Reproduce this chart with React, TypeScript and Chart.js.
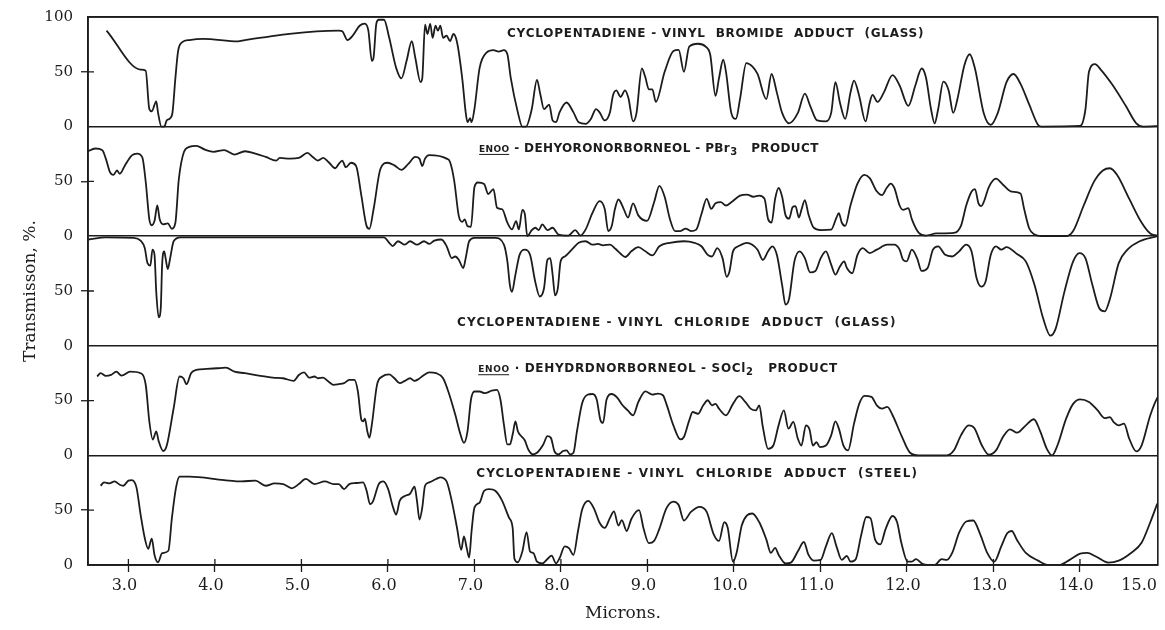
import React, { useEffect, useRef } from "react";
import { Chart, registerables } from "chart.js";

Chart.register(...registerables);

const INK = "#1c1c1c";
const SERIF = '"DejaVu Serif", serif';
const SANS = '"DejaVu Sans", sans-serif';

// ---------- axes ----------
const X_MIN = 2.533;
const X_MAX = 14.9;
const xTickValues = [3, 4, 5, 6, 7, 8, 9, 10, 11, 12, 13, 14, 14.73];
const xTickLabels = ["3.0", "4.0", "5.0", "6.0", "7.0", "8.0", "9.0", "10.0", "11.0", "12.0", "13.0", "14.0", "15.0"];
const yTickValues = [0, 50, 100, 150, 200, 250, 300, 350, 400, 450, 500];
const yTickLabels = ["0", "50", "0", "50", "0", "50", "0", "50", "0", "50", "100"];

// ---------- spectra (microns, transmission %) ----------
// 1. Cyclopentadiene - vinyl bromide adduct (glass)
const vbGlassMicrons = [2.747, 3.14, 3.2, 3.242, 3.27, 3.322, 3.342, 3.382, 3.414, 3.443, 3.483, 3.51, 3.543, 3.575, 3.623, 3.704, 3.865, 4.266, 4.347, 5.432, 5.472, 5.533, 5.593, 5.673, 5.733, 5.774, 5.814, 5.834, 5.866, 5.894, 5.955, 6.015, 6.095, 6.156, 6.216, 6.276, 6.316, 6.377, 6.397, 6.429, 6.457, 6.489, 6.517, 6.55, 6.578, 6.606, 6.638, 6.678, 6.718, 6.758, 6.799, 6.859, 6.899, 6.92, 6.951, 6.967, 7.0, 7.06, 7.14, 7.22, 7.28, 7.341, 7.381, 7.421, 7.502, 7.554, 7.595, 7.663, 7.723, 7.763, 7.804, 7.864, 7.904, 7.944, 7.984, 8.065, 8.145, 8.205, 8.286, 8.346, 8.406, 8.447, 8.507, 8.567, 8.6, 8.64, 8.69, 8.74, 8.78, 8.834, 8.874, 8.935, 8.976, 9.016, 9.057, 9.097, 9.199, 9.3, 9.361, 9.422, 9.483, 9.584, 9.673, 9.726, 9.787, 9.827, 9.876, 9.908, 9.969, 10.022, 10.07, 10.143, 10.212, 10.273, 10.374, 10.435, 10.496, 10.557, 10.638, 10.739, 10.82, 10.881, 10.962, 11.063, 11.124, 11.173, 11.225, 11.286, 11.347, 11.388, 11.448, 11.521, 11.57, 11.602, 11.659, 11.732, 11.834, 11.915, 12.016, 12.097, 12.17, 12.219, 12.279, 12.32, 12.36, 12.421, 12.482, 12.535, 12.583, 12.664, 12.725, 12.786, 12.887, 12.969, 13.05, 13.151, 13.232, 13.313, 13.414, 13.516, 13.556, 14.002, 14.063, 14.104, 14.173, 14.245, 14.367, 14.529, 14.651, 14.732, 14.934];
const vbGlassT = [87.6, 52, 51, 16, 14, 23, 13, 0, 0, 5.6, 7.7, 13, 44, 69, 77, 79, 80, 77.7, 79, 87.6, 87, 79, 83, 92, 94, 87.6, 60, 63, 94, 97.5, 97.5, 81, 53.6, 44, 60, 78, 63, 40.6, 44, 93, 84.5, 93.8, 81, 92, 87.6, 92, 81, 83, 78, 84.5, 77, 44, 13, 4, 7.7, 4, 16, 53.6, 67.5, 69.7, 68.4, 69.7, 66, 44, 13, 0, 0, 16, 42.7, 29, 16, 20, 5.6, 4, 13, 22, 13, 4, 2.5, 7, 16, 13, 5.6, 13, 28, 33, 27, 33, 26, 4.7, 12.5, 53, 45, 34, 34, 22.5, 50, 69, 70, 50, 73, 75.6, 73, 65.6, 28, 44, 61, 50, 12.5, 7, 25, 58, 55, 48, 25, 48, 31, 12.5, 3, 12.5, 30, 19, 5.6, 4.7, 12.5, 40.6, 22, 7, 31, 42, 28, 4.7, 22, 29, 22.5, 31, 47, 37.5, 19, 37.5, 53, 45, 15.6, 3, 15.6, 41, 33, 12.5, 25, 56, 66, 53, 12.5, 1.5, 12.5, 40.6, 48, 39, 20, 1.5, 0, 0.6, 15.6, 50, 57, 51.6, 39, 19, 3, 0, 0.6];

// 2. endo-Dehydronorborneol - PBr3 product
const pbr3Microns = [2.518, 2.619, 2.699, 2.739, 2.787, 2.828, 2.868, 2.9, 2.96, 3.04, 3.1, 3.161, 3.201, 3.242, 3.27, 3.302, 3.334, 3.362, 3.402, 3.455, 3.503, 3.543, 3.583, 3.643, 3.704, 3.784, 3.885, 3.985, 4.106, 4.226, 4.347, 4.468, 4.588, 4.709, 4.749, 4.87, 4.97, 5.07, 5.131, 5.191, 5.251, 5.312, 5.392, 5.432, 5.472, 5.513, 5.573, 5.633, 5.693, 5.754, 5.786, 5.834, 5.914, 5.995, 6.075, 6.156, 6.236, 6.316, 6.364, 6.397, 6.429, 6.477, 6.678, 6.718, 6.766, 6.819, 6.859, 6.887, 6.92, 6.96, 7.0, 7.04, 7.112, 7.16, 7.22, 7.261, 7.321, 7.381, 7.434, 7.482, 7.514, 7.554, 7.583, 7.611, 7.663, 7.703, 7.743, 7.784, 7.844, 7.904, 7.972, 8.085, 8.165, 8.226, 8.286, 8.366, 8.447, 8.507, 8.547, 8.587, 8.625, 8.665, 8.725, 8.775, 8.834, 8.895, 8.996, 9.077, 9.138, 9.199, 9.26, 9.32, 9.381, 9.442, 9.503, 9.564, 9.624, 9.685, 9.738, 9.787, 9.847, 9.908, 9.969, 10.07, 10.151, 10.224, 10.293, 10.354, 10.395, 10.435, 10.476, 10.516, 10.557, 10.597, 10.638, 10.678, 10.711, 10.751, 10.78, 10.82, 10.861, 10.922, 11.003, 11.124, 11.185, 11.213, 11.246, 11.286, 11.347, 11.428, 11.509, 11.57, 11.651, 11.712, 11.765, 11.813, 11.854, 11.915, 11.955, 12.016, 12.056, 12.137, 12.219, 12.34, 12.543, 12.624, 12.685, 12.746, 12.786, 12.827, 12.859, 12.887, 12.948, 13.029, 13.11, 13.212, 13.313, 13.354, 13.414, 13.475, 13.556, 13.84, 13.921, 14.043, 14.164, 14.265, 14.347, 14.428, 14.57, 14.712, 14.813, 14.894];
const pbr3T = [77, 80, 78.5, 70.8, 58.5, 56, 60, 57, 64.6, 73.8, 75.4, 72, 49, 15.4, 10, 14, 28, 15.4, 10.8, 11.7, 6.8, 12.3, 52, 77, 81.5, 82.5, 79, 77, 78.5, 74.5, 77.5, 75.4, 72.3, 69, 71.4, 70.8, 71.4, 76, 72.3, 69, 71.4, 67.7, 62, 66, 69, 63, 67, 64, 37, 9.2, 6.8, 24.6, 61.5, 67, 64.6, 60.6, 66, 72.3, 70.8, 64, 70.8, 74, 70.8, 67.7, 50.8, 18.5, 13, 15.4, 9.2, 8.6, 44.6, 49, 47.7, 38.5, 43, 26, 24.6, 12.3, 6.2, 13.8, 6.2, 24, 20, 0, 5.5, 7.7, 5.5, 10.8, 5.5, 7.7, 1.5, 0.6, 5.5, 0.6, 6.2, 21.5, 32, 24.6, 4.6, 9.2, 25, 33.5, 25, 17, 30, 19, 14, 31, 46, 36, 15.6, 4.7, 4.7, 7, 4.7, 6, 20, 34, 25, 30, 31, 28, 31, 37, 38, 36, 37, 34, 15.6, 12.5, 34, 44, 36, 19, 16, 26.5, 27.5, 17, 24, 33, 20, 7.8, 5.6, 6, 17, 21, 12.5, 9.4, 28, 48, 56, 53, 41, 37.5, 44, 48, 44, 28, 24, 25.6, 15.6, 3, 0.6, 2.5, 3, 9.4, 28, 40.6, 43, 30, 27.5, 31, 45, 52.5, 47, 40.6, 39, 25, 7, 1.5, 0, 0, 4.7, 28, 50, 60, 62, 56, 34, 12.5, 2.5, 0.6];

// 3. Cyclopentadiene - vinyl chloride adduct (glass), plotted hanging from the top
const vcGlassMicrons = [2.538, 2.739, 3.061, 3.141, 3.189, 3.221, 3.254, 3.278, 3.302, 3.322, 3.35, 3.374, 3.39, 3.414, 3.43, 3.455, 3.483, 3.523, 3.603, 5.955, 6.015, 6.055, 6.116, 6.196, 6.256, 6.336, 6.417, 6.477, 6.537, 6.618, 6.678, 6.738, 6.779, 6.819, 6.871, 6.899, 6.939, 7.0, 7.24, 7.341, 7.381, 7.41, 7.434, 7.474, 7.522, 7.583, 7.643, 7.703, 7.755, 7.804, 7.844, 7.876, 7.904, 7.932, 7.964, 7.996, 8.045, 8.125, 8.205, 8.286, 8.366, 8.427, 8.487, 8.567, 8.63, 8.69, 8.745, 8.814, 8.895, 8.976, 9.057, 9.138, 9.26, 9.422, 9.543, 9.624, 9.697, 9.746, 9.807, 9.868, 9.916, 9.949, 9.989, 10.05, 10.151, 10.212, 10.273, 10.334, 10.395, 10.443, 10.496, 10.557, 10.597, 10.638, 10.699, 10.759, 10.82, 10.881, 10.942, 11.003, 11.063, 11.124, 11.173, 11.225, 11.274, 11.306, 11.367, 11.428, 11.489, 11.57, 11.651, 11.773, 11.854, 11.915, 11.955, 11.996, 12.056, 12.117, 12.17, 12.239, 12.3, 12.36, 12.442, 12.523, 12.603, 12.685, 12.746, 12.806, 12.859, 12.908, 12.969, 13.029, 13.09, 13.151, 13.273, 13.374, 13.475, 13.576, 13.658, 13.718, 13.82, 13.921, 13.994, 14.063, 14.144, 14.225, 14.286, 14.347, 14.448, 14.549, 14.691, 14.894];
const vcGlassT = [3, 1, 1.5, 4, 10.8, 24.6, 26.8, 12.3, 17, 50.8, 74, 66, 26, 13.8, 20, 30, 20, 4.6, 1, 1, 6, 9, 4.6, 7.7, 4.6, 7.7, 4.6, 7, 4, 3, 9, 20, 18.5, 21.5, 29, 20, 4.6, 1.5, 1.5, 7.7, 23, 44.6, 50.8, 35, 17, 12.3, 17, 41.5, 55, 47.7, 21.5, 20, 35, 54, 47.7, 23, 18.5, 12.3, 6, 4.6, 7.7, 7, 8.3, 7.7, 11.5, 16, 19, 13.8, 10, 13.8, 17.5, 9.2, 6, 4.6, 6, 9.2, 17, 18.5, 10.8, 20, 37, 32, 13.8, 9.2, 6, 7.7, 12.3, 21.5, 13.8, 9.2, 17, 44.6, 62.5, 57, 23, 13.8, 20, 33, 31.7, 20, 13.8, 26, 35, 27.7, 23, 29, 33.8, 17, 10.8, 15.4, 12.3, 7.7, 7.7, 12.3, 21.5, 23, 12.3, 20, 31.7, 29, 12.3, 9.2, 17, 18.5, 13.8, 7.7, 13.8, 38.5, 46, 41.5, 17, 9.2, 12.3, 10, 16.3, 23, 44.6, 75.4, 90.8, 84.6, 50.8, 23, 15.4, 20, 44.6, 66, 68.6, 57, 24.6, 12.3, 4.6, 0];

// 4. endo-Dehydronorborneol - SOCl2 product
const socl2Microns = [2.639, 2.679, 2.739, 2.8, 2.86, 2.92, 3.02, 3.141, 3.201, 3.242, 3.282, 3.322, 3.35, 3.402, 3.442, 3.523, 3.591, 3.636, 3.672, 3.724, 3.784, 3.905, 4.025, 4.126, 4.226, 4.347, 4.508, 4.669, 4.789, 4.91, 4.97, 5.03, 5.09, 5.151, 5.191, 5.251, 5.312, 5.372, 5.432, 5.493, 5.553, 5.613, 5.653, 5.693, 5.713, 5.734, 5.762, 5.786, 5.814, 5.874, 5.935, 6.015, 6.075, 6.136, 6.196, 6.256, 6.308, 6.357, 6.417, 6.477, 6.558, 6.638, 6.698, 6.779, 6.839, 6.879, 6.92, 6.96, 7.0, 7.06, 7.12, 7.2, 7.261, 7.301, 7.341, 7.381, 7.41, 7.442, 7.474, 7.502, 7.542, 7.583, 7.623, 7.675, 7.723, 7.796, 7.844, 7.884, 7.924, 7.972, 8.025, 8.065, 8.105, 8.145, 8.185, 8.246, 8.306, 8.366, 8.414, 8.455, 8.487, 8.527, 8.587, 8.648, 8.71, 8.773, 8.834, 8.895, 8.976, 9.057, 9.118, 9.179, 9.219, 9.3, 9.381, 9.422, 9.483, 9.523, 9.584, 9.645, 9.697, 9.746, 9.787, 9.827, 9.908, 9.989, 10.062, 10.131, 10.192, 10.253, 10.293, 10.334, 10.395, 10.455, 10.516, 10.577, 10.63, 10.686, 10.739, 10.78, 10.832, 10.873, 10.913, 10.954, 10.994, 11.063, 11.124, 11.173, 11.213, 11.266, 11.319, 11.388, 11.448, 11.509, 11.59, 11.651, 11.712, 11.773, 11.834, 11.935, 12.036, 12.137, 12.462, 12.543, 12.624, 12.713, 12.778, 12.867, 12.948, 13.029, 13.11, 13.191, 13.273, 13.374, 13.467, 13.536, 13.617, 13.678, 13.739, 13.84, 13.921, 14.002, 14.104, 14.205, 14.286, 14.347, 14.387, 14.448, 14.509, 14.57, 14.651, 14.712, 14.813, 14.894, 14.955];
const socl2T = [72, 75, 72.5, 73.4, 76.4, 72.8, 76.4, 75, 64, 31, 14.5, 22, 13, 4, 8.5, 43, 72, 70.4, 65, 75, 78, 78.9, 79.5, 80, 76.4, 75, 72.8, 71, 70.4, 68, 73.4, 75.8, 71, 72, 70.4, 71, 67.4, 64.4, 65, 65.9, 68.9, 68.9, 58.3, 32.6, 31, 33.5, 22, 16, 28, 64.4, 72, 74, 70.4, 65.9, 68, 70.4, 68, 69.8, 73.4, 75.8, 75, 70.4, 58.3, 37, 19, 11.5, 22, 50.8, 58.3, 58.3, 56.8, 59, 59.8, 50.8, 28, 10, 10, 19, 31, 22, 17.5, 13.6, 5.4, 1, 2.4, 10, 17.5, 16, 4, 1, 4, 4.5, 1, 2.4, 22, 47.7, 55.3, 56, 50.8, 32.6, 29.6, 50.8, 56, 53, 46, 41, 36.6, 48.8, 58.5, 55.5, 56.4, 54.9, 47, 27.4, 14.6, 16.8, 32, 39.6, 38, 45.7, 50.3, 45.7, 47, 42.7, 36.6, 47, 54, 48.8, 42.7, 41, 45.7, 26, 6, 9, 27.4, 41, 24.4, 30.5, 15.2, 9, 27.4, 23.8, 9, 12, 7.6, 9, 18.3, 31, 24.4, 9, 4.6, 29, 47, 54.3, 53.4, 45.7, 42.7, 44.2, 36.6, 18.3, 2.4, 0, 0, 4.6, 18.3, 27.4, 25, 9, 0.6, 4.6, 16.8, 23.8, 20.7, 27.4, 33, 22.9, 6, 0, 9, 33.5, 47, 51.2, 48.8, 41, 34, 35, 30.5, 27.4, 29, 15.2, 3.7, 9, 36.6, 52.4, 58];

// 5. Cyclopentadiene - vinyl chloride adduct (steel)
const vcSteelMicrons = [2.679, 2.719, 2.779, 2.84, 2.9, 2.94, 3.0, 3.04, 3.093, 3.141, 3.189, 3.229, 3.27, 3.302, 3.342, 3.39, 3.462, 3.503, 3.551, 3.591, 3.704, 4.106, 4.307, 4.468, 4.588, 4.689, 4.789, 4.89, 4.97, 5.05, 5.151, 5.271, 5.372, 5.432, 5.493, 5.553, 5.633, 5.713, 5.754, 5.794, 5.826, 5.894, 5.946, 6.003, 6.055, 6.096, 6.136, 6.196, 6.256, 6.308, 6.336, 6.365, 6.397, 6.429, 6.477, 6.558, 6.606, 6.678, 6.738, 6.799, 6.847, 6.879, 6.911, 6.939, 6.967, 7.0, 7.06, 7.112, 7.168, 7.241, 7.321, 7.401, 7.442, 7.462, 7.502, 7.554, 7.603, 7.643, 7.683, 7.723, 7.784, 7.844, 7.892, 7.944, 7.984, 8.045, 8.093, 8.145, 8.197, 8.246, 8.318, 8.386, 8.447, 8.507, 8.567, 8.613, 8.664, 8.704, 8.76, 8.814, 8.903, 8.956, 9.016, 9.077, 9.138, 9.219, 9.3, 9.361, 9.422, 9.503, 9.604, 9.685, 9.766, 9.827, 9.888, 9.928, 9.989, 10.03, 10.09, 10.151, 10.212, 10.293, 10.374, 10.427, 10.476, 10.516, 10.597, 10.658, 10.739, 10.808, 10.861, 10.922, 11.003, 11.063, 11.132, 11.185, 11.246, 11.306, 11.347, 11.408, 11.469, 11.53, 11.578, 11.631, 11.692, 11.753, 11.833, 11.886, 11.935, 12.008, 12.056, 12.105, 12.178, 12.239, 12.32, 12.401, 12.462, 12.523, 12.604, 12.685, 12.766, 12.847, 12.928, 13.009, 13.09, 13.159, 13.211, 13.272, 13.374, 13.516, 13.637, 13.759, 13.881, 14.002, 14.083, 14.184, 14.326, 14.448, 14.59, 14.712, 14.813, 14.894];
const vcSteelT = [72.3, 75.4, 74.5, 76.3, 73.2, 72.3, 77, 77.5, 70.8, 46, 24.6, 14.8, 24, 9.2, 2.5, 10.8, 13, 43, 70.8, 80.6, 80.6, 77.5, 76.3, 77, 72.3, 74.5, 73.8, 70, 73.8, 78.5, 73.8, 76.3, 73.8, 73.8, 69.2, 73.8, 74.8, 75.4, 67.7, 55.4, 57.8, 73.8, 76.3, 69.2, 53.8, 46, 58.5, 63, 65, 71.4, 58.5, 41.5, 52.3, 72.3, 75.4, 78.5, 80, 76.3, 58.5, 33.8, 13.8, 26, 15.4, 6.8, 30.8, 52.3, 57, 67.7, 69.2, 67.7, 58.5, 43, 33.8, 6, 2.5, 12.3, 30, 12.3, 10.8, 3, 1.5, 5.5, 8.6, 1.5, 6.2, 17, 15.4, 9.2, 30.8, 50.8, 58.5, 50.8, 38.5, 33.8, 43, 49, 36, 41, 31, 42, 50, 33, 20, 22, 33, 51.6, 57.8, 54.7, 40.6, 48.4, 53, 48.4, 28, 22, 39, 34, 3, 11, 36, 45.3, 47, 39, 23.4, 11, 15.6, 9.4, 1.5, 2.2, 12.5, 21, 9.4, 4, 4.7, 17, 29, 17, 4.7, 8.4, 3, 5.3, 26.6, 43.8, 42.8, 23.4, 18.8, 32.8, 44.7, 39, 20.3, 3, 3, 5.3, 1, 0, 0, 5.3, 4.7, 11, 29.7, 39.7, 40.6, 28, 11, 3, 17, 29, 31, 22.8, 11, 4, 0, 0, 4.7, 10.3, 11, 7.8, 2.2, 4, 11, 20.3, 39, 56];

// panel stacking: each panel spans 100 units of the shared y scale (top panel first)
const panels = [
  { name: "Cyclopentadiene - vinyl bromide adduct (glass)", microns: vbGlassMicrons, values: vbGlassT, base: 400, dir: 1 },
  { name: "endo-Dehydronorborneol - PBr3 product", microns: pbr3Microns, values: pbr3T, base: 300, dir: 1 },
  { name: "Cyclopentadiene - vinyl chloride adduct (glass)", microns: vcGlassMicrons, values: vcGlassT, base: 300, dir: -1 },
  { name: "endo-Dehydronorborneol - SOCl2 product", microns: socl2Microns, values: socl2T, base: 100, dir: 1 },
  { name: "Cyclopentadiene - vinyl chloride adduct (steel)", microns: vcSteelMicrons, values: vcSteelT, base: 0, dir: 1 },
];

type Part = { t: string; kind?: "small" | "sub" };
const panelTitles: { panel: number; from: number; to: number; level: number; parts: Part[] }[] = [
  { panel: 0, from: 7.377, to: 12.2, level: 85.8, parts: [{ t: "CYCLOPENTADIENE - VINYL  BROMIDE  ADDUCT  (GLASS)" }] },
  { panel: 1, from: 7.054, to: 10.98, level: 81, parts: [{ t: "ENOO", kind: "small" }, { t: " - DEHYORONORBORNEOL - PBr" }, { t: "3", kind: "sub" }, { t: "   PRODUCT" }] },
  { panel: 2, from: 6.80, to: 11.88, level: 78.2, parts: [{ t: "CYCLOPENTADIENE - VINYL  CHLORIDE  ADDUCT  (GLASS)" }] },
  { panel: 3, from: 7.043, to: 11.2, level: 80, parts: [{ t: "ENOO", kind: "small" }, { t: " · DEHYDRDNORBORNEOL - SOCl" }, { t: "2", kind: "sub" }, { t: "   PRODUCT" }] },
  { panel: 4, from: 7.02, to: 12.13, level: 84.5, parts: [{ t: "CYCLOPENTADIENE - VINYL  CHLORIDE  ADDUCT  (STEEL)" }] },
];

const partFont = (k?: string) =>
  k === "small" ? `bold 9px ${SANS}` : k === "sub" ? `bold 10px ${SANS}` : `bold 12px ${SANS}`;

const decor = {
  id: "decor",
  afterDraw(chart: any) {
    const { ctx, chartArea: a, scales } = chart;
    const xs = scales.x;
    const ys = scales.y;
    ctx.save();
    // frame
    ctx.strokeStyle = INK;
    ctx.lineWidth = 1.6;
    ctx.strokeRect(a.left, a.top, a.right - a.left, a.bottom - a.top);
    // inner tick stubs
    ctx.lineWidth = 1.3;
    ctx.beginPath();
    yTickValues.forEach((v) => {
      if (v % 100 !== 0) {
        const py = ys.getPixelForValue(v);
        ctx.moveTo(a.left, py);
        ctx.lineTo(a.left + 6, py);
      }
    });
    xTickValues.slice(0, -1).forEach((v) => {
      const px = xs.getPixelForValue(v);
      ctx.moveTo(px, a.bottom);
      ctx.lineTo(px, a.bottom - 6);
    });
    ctx.stroke();

    // panel titles
    ctx.fillStyle = INK;
    ctx.textBaseline = "alphabetic";
    ctx.textAlign = "left";
    const hasLS = "letterSpacing" in ctx;
    panelTitles.forEach((t) => {
      const p = panels[t.panel];
      const x0 = xs.getPixelForValue(t.from);
      const x1 = xs.getPixelForValue(t.to);
      const yc = ys.getPixelForValue(p.base + p.dir * t.level);
      const base = yc + 4.5;
      if (hasLS) ctx.letterSpacing = "0px";
      let w0 = 0;
      let n = 0;
      t.parts.forEach((pt) => {
        ctx.font = partFont(pt.kind);
        w0 += ctx.measureText(pt.t).width;
        n += pt.t.length;
      });
      const sp = hasLS ? Math.max(0, (x1 - x0 - w0) / n) : 0;
      let x = x0;
      t.parts.forEach((pt) => {
        ctx.font = partFont(pt.kind);
        if (hasLS) ctx.letterSpacing = `${sp}px`;
        const y = pt.kind === "sub" ? base + 3 : base;
        ctx.fillText(pt.t, x, y);
        const w = ctx.measureText(pt.t).width;
        if (pt.kind === "small") {
          ctx.beginPath();
          ctx.lineWidth = 1;
          ctx.moveTo(x, base + 2.5);
          ctx.lineTo(x + w - sp, base + 2.5);
          ctx.stroke();
        }
        x += w;
      });
    });
    ctx.restore();
  },
};

export default function App() {
  const ref = useRef<HTMLCanvasElement>(null);
  useEffect(() => {
    document.body.style.margin = "0";
    const canvas = ref.current;
    if (!canvas) return;
    const datasets = panels.map((p) => ({
      label: p.name,
      data: p.microns.map((m, i) => ({ x: m, y: p.base + p.dir * p.values[i] })),
      borderColor: INK,
      borderWidth: 1.8,
      pointRadius: 0,
      fill: false,
      cubicInterpolationMode: "monotone" as const,
    }));
    const transparent = "rgba(0,0,0,0)";
    const chart = new Chart(canvas, {
      type: "line",
      data: { datasets },
      options: {
        animation: false,
        responsive: false,
        devicePixelRatio: 1,
        layout: { padding: { left: 0, right: 5, top: 15, bottom: 0 } },
        plugins: { legend: { display: false }, tooltip: { enabled: false } },
        scales: {
          x: {
            type: "linear",
            min: X_MIN,
            max: X_MAX,
            afterBuildTicks: (s: any) => {
              s.ticks = xTickValues.map((v) => ({ value: v }));
            },
            afterFit: (s: any) => {
              s.height = 65;
            },
            ticks: {
              autoSkip: false,
              maxRotation: 0,
              minRotation: 0,
              padding: 4,
              labelOffset: -4,
              color: INK,
              font: { family: SERIF, size: 16 },
              callback: (_v: any, i: number) => xTickLabels[i],
            },
            grid: {
              drawOnChartArea: false,
              tickLength: 7,
              tickWidth: 1.3,
              tickColor: (c: any) => (c.index === xTickValues.length - 1 ? transparent : INK),
            },
            border: { color: INK, width: 1.6 },
            title: {
              display: true,
              text: "Microns.",
              color: INK,
              font: { family: SERIF, size: 17 },
              padding: { top: 0, bottom: 6 },
            },
          },
          y: {
            type: "linear",
            min: 0,
            max: 500,
            afterBuildTicks: (s: any) => {
              s.ticks = yTickValues.map((v) => ({ value: v }));
            },
            afterFit: (s: any) => {
              s.width = 88;
            },
            ticks: {
              padding: 8,
              color: INK,
              font: { family: SERIF, size: 15 },
              callback: (_v: any, i: number) => yTickLabels[i],
            },
            grid: {
              lineWidth: 1.5,
              tickLength: 7,
              tickWidth: 1.3,
              color: (c: any) => (c.tick && c.tick.value % 100 === 0 ? INK : transparent),
              tickColor: (c: any) => (c.tick && c.tick.value % 100 === 0 ? transparent : INK),
            },
            border: { color: INK, width: 1.6 },
            title: {
              display: true,
              text: "Transmisson, %.",
              color: INK,
              font: { family: SERIF, size: 17 },
              padding: { top: 20, bottom: 0 },
            },
          },
        },
      },
      plugins: [decor],
    });
    return () => chart.destroy();
  }, []);
  return <canvas ref={ref} width={1165} height={630} style={{ display: "block" }} />;
}
